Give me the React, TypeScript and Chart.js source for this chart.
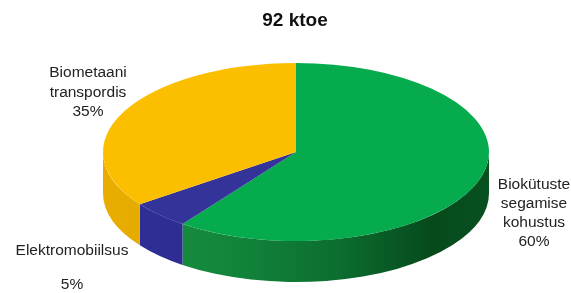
import React, { useEffect, useRef } from "react";
import { Chart, registerables } from "chart.js";

Chart.register(...registerables);

// ---- data ----
const TITLE = "92 ktoe";
const categories = ["Biokütuste segamise kohustus", "Elektromobiilsus", "Biometaani transpordis"];
const shares = [60, 5, 35];
const labelWords = [["Biokütuste", "segamise", "kohustus"], ["Elektromobiilsus"], ["Biometaani", "transpordis"]];

// ---- styles ----
const topColors = ["#05ab4d", "#333399", "#fcbf00"];
const sideStops: string[][] = [
  ["#1a9442", "#12843a", "#0c6f30", "#064a1c", "#08501f"],
  ["#30309a", "#2a2a8c", "#25257e", "#1e1e6c", "#1e1e6c"],
  ["#e8ad00", "#e0a700", "#d69e00", "#c08c00", "#c08c00"],
];
const GEOM = { cx: 296, cy: 152, rx: 193, ry: 89, depth: 41 };
// label layout: [x, y of each line]
const labelLayout = [
  { x: 534, ys: [185, 204, 223, 242] },
  { x: 72, ys: [251, 285] },
  { x: 88, ys: [73, 93, 112] },
];
const FONT = '"Liberation Sans", Arial, sans-serif';

const pie3d = {
  id: "pie3d",
  beforeDatasetsDraw(chart: any) {
    const ctx: CanvasRenderingContext2D = chart.ctx;
    const meta = chart.getDatasetMeta(0);
    const { cx, cy, rx, ry, depth } = GEOM;
    // side walls (front half only)
    meta.data.forEach((arc: any, i: number) => {
      const p = arc.getProps(["startAngle", "endAngle"], true);
      for (let k = -1; k <= 1; k++) {
        const lo = 2 * Math.PI * k;
        const a = Math.max(p.startAngle, lo);
        const b = Math.min(p.endAngle, lo + Math.PI);
        if (b <= a) continue;
        const g = ctx.createLinearGradient(cx - rx, 0, cx + rx, 0);
        const st = sideStops[i];
        const pos = [0, 0.35, 0.6, 0.85, 1];
        st.forEach((c, j) => g.addColorStop(pos[j], c));
        ctx.save();
        ctx.beginPath();
        ctx.ellipse(cx, cy, rx, ry, 0, a, b, false);
        ctx.ellipse(cx, cy + depth, rx, ry, 0, b, a, true);
        ctx.closePath();
        ctx.fillStyle = g;
        ctx.fill();
        ctx.restore();
      }
    });
    // transform the flat pie into the top ellipse
    const first = meta.data[0];
    const { x, y, outerRadius } = first.getProps(["x", "y", "outerRadius"], true);
    ctx.save();
    ctx.translate(cx, cy);
    ctx.scale(rx / outerRadius, ry / outerRadius);
    ctx.translate(-x, -y);
  },
  afterDatasetsDraw(chart: any) {
    const ctx: CanvasRenderingContext2D = chart.ctx;
    ctx.restore();
    ctx.save();
    ctx.fillStyle = "#111";
    ctx.textAlign = "center";
    ctx.textBaseline = "middle";
    ctx.font = `bold 19px ${FONT}`;
    ctx.fillText(TITLE, 295, 21);
    ctx.font = `15.5px ${FONT}`;
    ctx.fillStyle = "#222";
    labelWords.forEach((words, i) => {
      const lines = [...words, `${shares[i]}%`];
      const lay = labelLayout[i];
      lines.forEach((t, j) => ctx.fillText(t, lay.x, lay.ys[j]));
    });
    ctx.restore();
  },
};

export default function App() {
  const ref = useRef<HTMLCanvasElement>(null);
  useEffect(() => {
    if (!ref.current) return;
    const chart = new Chart(ref.current, {
      type: "pie",
      data: {
        labels: categories,
        datasets: [
          {
            data: shares,
            backgroundColor: topColors,
            borderWidth: 0,
            clip: false as any,
          },
        ],
      },
      options: {
        responsive: false,
        animation: false,
        rotation: 0,
        plugins: { legend: { display: false }, tooltip: { enabled: false }, title: { display: false } },
        layout: { padding: 0 },
      },
      plugins: [pie3d],
    });
    return () => chart.destroy();
  }, []);
  return (
    <div style={{ position: "fixed", left: 0, top: 0, width: 571, height: 293, background: "#fff" }}>
      <canvas ref={ref} width={571} height={293} />
    </div>
  );
}
